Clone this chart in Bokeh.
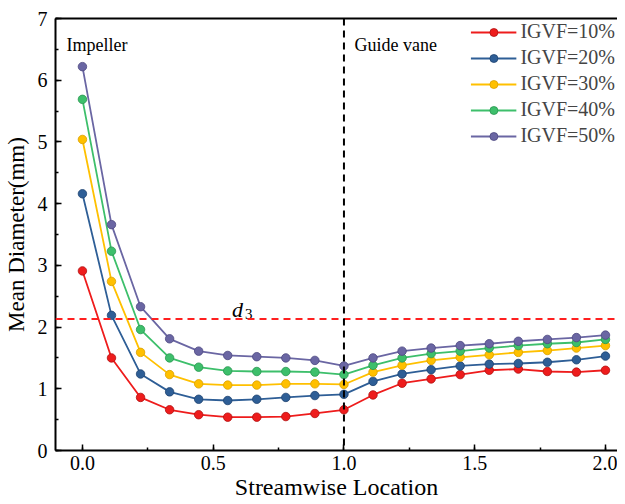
from bokeh.plotting import figure
from bokeh.models import (Range1d, SingleIntervalTicker, PrintfTickFormatter, LinearAxis,
                          Span, Legend, LegendItem, FixedTicker)
from bokeh.core.properties import value
from bokeh.embed import file_html
from bokeh.resources import INLINE

# ---- data ----
x = [i / 9 for i in range(19)]
igvf10 = [2.91, 1.50, 0.86, 0.66, 0.58, 0.54, 0.54, 0.55, 0.60, 0.66,
          0.90, 1.09, 1.16, 1.23, 1.30, 1.32, 1.28, 1.27, 1.30]
igvf20 = [4.16, 2.19, 1.24, 0.95, 0.83, 0.81, 0.83, 0.86, 0.89, 0.91,
          1.12, 1.24, 1.31, 1.37, 1.40, 1.41, 1.43, 1.47, 1.53]
igvf30 = [5.04, 2.74, 1.59, 1.23, 1.08, 1.06, 1.06, 1.08, 1.08, 1.07,
          1.27, 1.38, 1.46, 1.51, 1.55, 1.59, 1.62, 1.66, 1.70]
igvf40 = [5.69, 3.23, 1.96, 1.50, 1.35, 1.29, 1.28, 1.28, 1.27, 1.23,
          1.38, 1.50, 1.57, 1.61, 1.66, 1.70, 1.73, 1.75, 1.80]
igvf50 = [6.22, 3.66, 2.33, 1.81, 1.61, 1.54, 1.52, 1.50, 1.46, 1.37,
          1.50, 1.61, 1.66, 1.70, 1.73, 1.77, 1.80, 1.83, 1.87]
series = [("IGVF=10%", igvf10), ("IGVF=20%", igvf20), ("IGVF=30%", igvf30),
          ("IGVF=40%", igvf40), ("IGVF=50%", igvf50)]
d3_value = 2.13
boundary = 1.0

colors = ["#EE1C1C", "#2E5E96", "#FFC000", "#3DBF6B", "#6A66A3"]
edge_colors = ["#B01010", "#1E4270", "#D9A000", "#2A9650", "#4C4880"]

FONT = "'Liberation Serif', 'Times New Roman', serif"

p = figure(width=617, height=502, output_backend="svg", toolbar_location=None,
           x_range=Range1d(-0.103, 2.046), y_range=Range1d(0, 7),
           min_border_left=55, min_border_right=0, min_border_top=18, min_border_bottom=10)
p.outline_line_alpha = 0
p.grid.visible = False
p.background_fill_color = "white"

items = []
for (label, ys), c, ec in zip(series, colors, edge_colors):
    r1 = p.line(x, ys, line_color=c, line_width=1.8)
    r2 = p.scatter(x, ys, size=8.5, fill_color=c, line_color=ec, line_width=0.8)
    items.append(LegendItem(label=label, renderers=[r1, r2]))

p.add_layout(Span(location=d3_value, dimension="width", line_color="#FF2020",
                  line_width=2, line_dash="7 5"))
p.add_layout(Span(location=boundary, dimension="height", line_color="black",
                  line_width=2, line_dash="7 5"))

p.text(x=[-0.061], y=[6.57], text=["Impeller"], text_font=value(FONT),
       text_font_size="18px", text_baseline="alphabetic", text_color="black")
p.text(x=[1.04], y=[6.57], text=["Guide vane"], text_font=value(FONT),
       text_font_size="18px", text_baseline="alphabetic", text_color="black")
p.text(x=[0.572], y=[2.29], text=["d"], text_font=value(FONT), text_font_style="italic",
       text_font_size="22px", text_baseline="alphabetic", text_color="black")
p.text(x=[0.622], y=[2.21], text=["3"], text_font=value(FONT),
       text_font_size="15px", text_baseline="alphabetic", text_color="black")

legend = Legend(items=items, location="top_right", border_line_alpha=0,
                background_fill_alpha=0, label_text_font=FONT,
                label_text_font_size="20px", glyph_width=46, glyph_height=20,
                label_height=20, spacing=3, label_standoff=4, padding=2, margin=0)
p.add_layout(legend)

xa = p.xaxis[0]
xa.ticker = SingleIntervalTicker(interval=0.5, num_minor_ticks=2)
xa.formatter = PrintfTickFormatter(format="%.1f")
ya = p.yaxis[0]
ya.ticker = SingleIntervalTicker(interval=1, num_minor_ticks=2)
for ax in (xa, ya):
    ax.axis_line_width = 2
    ax.axis_line_color = "black"
    ax.major_tick_in = 6
    ax.major_tick_out = 0
    ax.minor_tick_in = 3
    ax.minor_tick_out = 0
    ax.major_tick_line_width = 1.5
    ax.minor_tick_line_width = 1.5
    ax.major_label_text_font = FONT
    ax.major_label_text_font_size = "20px"
    ax.major_label_text_color = "black"
    ax.axis_label_text_font = FONT
    ax.axis_label_text_font_size = "23px"
    ax.axis_label_text_font_style = "normal"
    ax.axis_label_text_color = "black"
xa.axis_label_text_font_size = "24px"
xa.axis_label = "Streamwise Location"
ya.axis_label = "Mean Diameter(mm)"
xa.major_label_standoff = 5
xa.axis_label_standoff = 1
ya.major_label_standoff = 8
ya.axis_label_standoff = 6

top = LinearAxis(ticker=FixedTicker(ticks=[]), axis_line_width=2, axis_line_color="black",
                 major_tick_in=0, major_tick_out=0, minor_tick_in=0, minor_tick_out=0)
p.add_layout(top, "above")

open("out.html", "w").write(file_html(p, INLINE))
